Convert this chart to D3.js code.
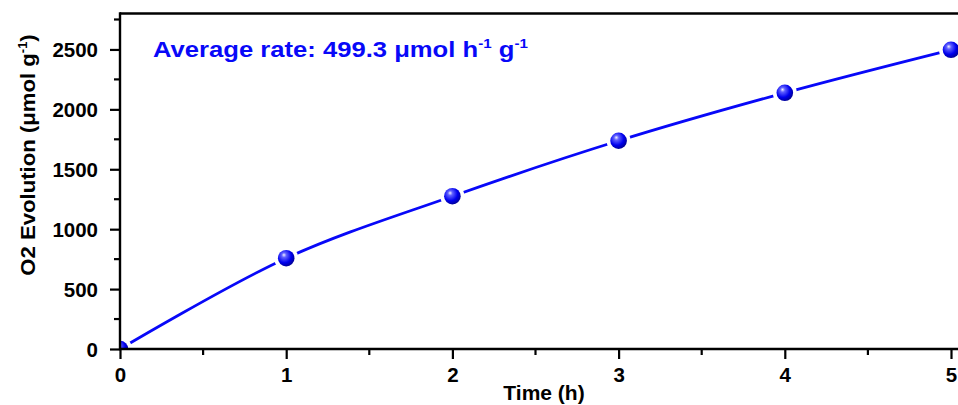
<!DOCTYPE html>
<html><head><meta charset="utf-8">
<script src="https://cdn.jsdelivr.net/npm/d3@7"></script>
<style>
html,body{margin:0;padding:0;background:#fff;}
svg{display:block;font-family:"Liberation Sans",Arial,sans-serif;}
</style></head>
<body>
<script>
const times = [0, 1, 2, 3, 4, 5];
const o2Values = [0, 758, 1275, 1738, 2138, 2497];
const xTicks = [0, 1, 2, 3, 4, 5];
const yTicks = [0, 500, 1000, 1500, 2000, 2500];
const annotation = "Average rate: 499.3 μmol h";

const W = 958, H = 405;
const svg = d3.select("body").append("svg").attr("width", W).attr("height", H);

const x = d3.scaleLinear().domain([0, 5]).range([120, 951]);
const y = d3.scaleLinear().domain([0, 2800]).range([349, 13.5]);
const xMax = 5.25;

const defs = svg.append("defs");
const grad = defs.append("radialGradient").attr("id", "ball")
  .attr("cx", "0.4").attr("cy", "0.38").attr("r", "0.65").attr("fx", "0.36").attr("fy", "0.3");
grad.append("stop").attr("offset", "0").attr("stop-color", "#f0f0ff");
grad.append("stop").attr("offset", "0.22").attr("stop-color", "#6060ff");
grad.append("stop").attr("offset", "0.65").attr("stop-color", "#0000ee");
grad.append("stop").attr("offset", "1").attr("stop-color", "#000090");
defs.append("clipPath").attr("id", "plotclip").append("rect")
  .attr("x", x(0)).attr("y", y(2800)).attr("width", x(xMax) - x(0)).attr("height", y(0) - y(2800));

const pts = times.map((t, i) => [t, o2Values[i]]);

// line with gaps around markers
const line = d3.line().x(d => x(d[0])).y(d => y(d[1])).curve(d3.curveCatmullRom.alpha(0.5));
const mask = defs.append("mask").attr("id", "gapmask");
mask.append("rect").attr("x", 0).attr("y", 0).attr("width", W).attr("height", H).attr("fill", "#fff");
mask.selectAll("circle").data(pts).join("circle")
  .attr("cx", d => x(d[0])).attr("cy", d => y(d[1])).attr("r", 12).attr("fill", "#000");

const plot = svg.append("g").attr("clip-path", "url(#plotclip)");
plot.append("path").datum(pts).attr("d", line)
  .attr("fill", "none").attr("stroke", "#0808f8").attr("stroke-width", 2.8)
  .attr("mask", "url(#gapmask)");
plot.selectAll("circle.pt").data(pts).join("circle").attr("class", "pt")
  .attr("cx", d => x(d[0])).attr("cy", d => y(d[1])).attr("r", 8.3)
  .attr("fill", "url(#ball)");

// axes
const xAxis = d3.axisBottom(x).tickValues(xTicks).tickSize(10).tickPadding(8).tickFormat(d3.format("d"));
const gx = svg.append("g").attr("transform", `translate(0,${y(0)})`).call(xAxis);
const yAxis = d3.axisLeft(y).tickValues(yTicks).tickSize(10).tickPadding(12).tickFormat(d3.format("d"));
const gy = svg.append("g").attr("transform", `translate(${x(0)},0)`).call(yAxis);
[gx, gy].forEach(g => {
  g.select(".domain").remove();
  g.selectAll(".tick line").attr("stroke", "#000").attr("stroke-width", 2.2);
  g.selectAll(".tick text").attr("fill", "#000").attr("font-size", 20.5).attr("font-weight", "bold")
    .attr("font-family", "'Liberation Sans',Arial,sans-serif");
});
gy.selectAll(".tick text").attr("dy", "0.36em");
gx.selectAll(".tick text").attr("dy", "0.72em");

// minor ticks
const xMinor = [0.5, 1.5, 2.5, 3.5, 4.5];
const yMinor = [250, 750, 1250, 1750, 2250, 2750];
svg.append("g").selectAll("line").data(xMinor).join("line")
  .attr("x1", d => x(d)).attr("x2", d => x(d)).attr("y1", y(0)).attr("y2", y(0) + 6)
  .attr("stroke", "#000").attr("stroke-width", 2.2);
svg.append("g").selectAll("line").data(yMinor).join("line")
  .attr("y1", d => y(d)).attr("y2", d => y(d)).attr("x1", x(0)).attr("x2", x(0) - 6)
  .attr("stroke", "#000").attr("stroke-width", 2.2);

// frame
svg.append("line").attr("x1", x(0)).attr("x2", x(xMax)).attr("y1", y(0)).attr("y2", y(0)).attr("stroke", "#000").attr("stroke-width", 2.4);
svg.append("line").attr("x1", x(0)).attr("x2", x(xMax)).attr("y1", y(2800)).attr("y2", y(2800)).attr("stroke", "#000").attr("stroke-width", 2.4);
svg.append("line").attr("x1", x(0)).attr("x2", x(0)).attr("y1", y(2800) - 1.2).attr("y2", y(0) + 1.2).attr("stroke", "#000").attr("stroke-width", 2.4);

// axis titles
svg.append("text").attr("x", 544).attr("y", 400).attr("text-anchor", "middle")
  .attr("font-size", 21).attr("font-weight", "bold").text("Time (h)");
const yt = svg.append("text").attr("transform", `translate(35,155) rotate(-90) scale(1.08,1)`)
  .attr("text-anchor", "middle").attr("font-size", 20.5).attr("font-weight", "bold");
yt.append("tspan").text("O2 Evolution (μmol g");
yt.append("tspan").attr("font-size", 12).attr("dy", -8).text("-1");
yt.append("tspan").attr("dy", 8).text(")");

// annotation
const an = svg.append("text").attr("transform", "translate(153,57) scale(1.165,1)").attr("fill", "#0808f8")
  .attr("font-size", 22).attr("font-weight", "bold");
an.append("tspan").text(annotation);
an.append("tspan").attr("font-size", 13).attr("dy", -9).text("-1");
an.append("tspan").attr("dy", 9).text(" g");
an.append("tspan").attr("font-size", 13).attr("dy", -9).text("-1");
</script>
</body></html>
